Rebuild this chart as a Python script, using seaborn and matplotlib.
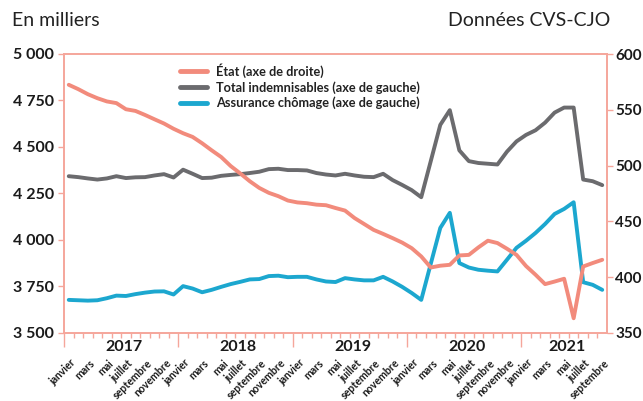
import numpy as np
import pandas as pd
import seaborn as sns
import matplotlib.pyplot as plt
from matplotlib.ticker import FuncFormatter

# Données mensuelles, janvier 2017 - septembre 2021 (en milliers)
etat = [572.4, 568.5, 564.0, 560.4, 557.5, 556.0, 550.5, 549.0, 545.4, 541.5, 537.7, 533.0,
        529.0, 525.7, 520.0, 513.7, 507.7, 499.6, 493.0, 486.0, 480.0, 475.6, 472.6, 468.7,
        467.0, 466.3, 465.0, 464.5, 462.0, 459.7, 453.0, 447.7, 442.4, 438.8, 435.0, 431.0,
        426.0, 418.6, 408.7, 410.3, 411.1, 419.5, 420.0, 426.7, 432.7, 430.6, 425.5, 420.0,
        410.0, 402.2, 393.8, 396.1, 398.6, 363.2, 409.6, 412.7, 415.6]
total = [4343, 4338, 4331, 4325, 4331, 4343, 4333, 4337, 4338, 4347, 4354, 4336,
         4378, 4356, 4333, 4335, 4345, 4350, 4354, 4360, 4367, 4381, 4383, 4376,
         4376, 4374, 4360, 4352, 4347, 4356, 4347, 4340, 4338, 4356, 4322, 4296,
         4268, 4230, 4424, 4619, 4698, 4482, 4424, 4414, 4410, 4406, 4475, 4530,
         4565, 4590, 4631, 4685, 4712, 4712, 4325, 4316, 4295]
assurance = [3678, 3676, 3674, 3676, 3687, 3701, 3699, 3709, 3717, 3723, 3724, 3707,
             3752, 3739, 3719, 3732, 3748, 3763, 3775, 3788, 3790, 3806, 3808, 3800,
             3802, 3802, 3788, 3777, 3774, 3795, 3788, 3783, 3783, 3802, 3777, 3748,
             3715, 3678, 3872, 4065, 4146, 3876, 3852, 3840, 3835, 3831, 3894, 3958,
             3996, 4038, 4086, 4140, 4167, 4203, 3773, 3759, 3732]
mois = ["janvier", "février", "mars", "avril", "mai", "juin", "juillet", "août",
        "septembre", "octobre", "novembre", "décembre"]
annees = [2017, 2018, 2019, 2020, 2021]

SALMON = "#f28b7c"
GRAY = "#6b6b6e"
BLUE = "#1ca7cf"
PINK = "#f5a69b"

n = len(etat)
df = pd.DataFrame({"i": np.arange(n), "etat": etat, "total": total, "ac": assurance})

sns.set_theme(style="white")
plt.rcParams["font.family"] = ["Lato", "DejaVu Sans"]

fig = plt.figure(figsize=(6.43, 4.01), dpi=100)
ax = fig.add_axes([64 / 643, 1 - 333 / 401, (607 - 64) / 643, (333 - 54) / 401])
ax2 = ax.twinx()

sns.lineplot(data=df, x="i", y="total", ax=ax, color=GRAY, lw=2.8,
             label="Total indemnisables (axe de gauche)", legend=False)
sns.lineplot(data=df, x="i", y="ac", ax=ax, color=BLUE, lw=2.8,
             label="Assurance chômage (axe de gauche)", legend=False)
sns.lineplot(data=df, x="i", y="etat", ax=ax2, color=SALMON, lw=2.8,
             label="État (axe de droite)", legend=False)

ax.set_xlim(-0.5, n - 0.5)
ax.set_ylim(3500, 5000)
ax2.set_ylim(350, 600)
ax.set_yticks(np.arange(3500, 5001, 250))
ax2.set_yticks(np.arange(350, 601, 50))
ax.yaxis.set_major_formatter(FuncFormatter(lambda v, p: f"{int(v):,}".replace(",", " ")))
for a in (ax, ax2):
    a.set_xlabel("")
    a.set_ylabel("")
    for s in a.spines.values():
        s.set_color(PINK)
        s.set_linewidth(1.2)
ax.tick_params(axis="y", direction="out", length=4, width=1, color=PINK, left=True,
               labelsize=11.5, pad=3)
ax2.tick_params(axis="y", direction="out", length=4, width=1, color=PINK, right=True,
                labelsize=11, pad=2)
for lab in ax.get_yticklabels() + ax2.get_yticklabels():
    lab.set_fontweight("bold")
    lab.set_color("#1a1a1a")

# graduations : mois (mineures) et janvier (majeures)
ax.set_xticks([12 * k - 0.5 for k in range(len(annees))])
ax.set_xticks(np.arange(-0.5, n - 0.5, 1), minor=True)
ax.set_xticklabels([])
ax.tick_params(axis="x", which="major", direction="out", length=10, width=1, color=PINK, bottom=True)
ax.tick_params(axis="x", which="minor", direction="out", length=3.5, width=1, color=PINK, bottom=True)

for i in range(n):
    if i % 2 == 0:
        ax.annotate(mois[i % 12], xy=(i, 0), xycoords=("data", "axes fraction"),
                    xytext=(1, -17.5), textcoords="offset points", rotation=45,
                    rotation_mode="anchor", ha="right", va="top", fontsize=7.6,
                    fontweight="bold", color="#1a1a1a")
for k, an in enumerate(annees):
    idx = [i for i in range(n) if i // 12 == k]
    ax.annotate(str(an), xy=(np.mean(idx) + 0.3, 0), xycoords=("data", "axes fraction"),
                xytext=(0, -10), textcoords="offset points", ha="center", va="center",
                fontsize=11.5, fontweight="bold", color="#1a1a1a")

fig.text(12 / 643, 1 - 20 / 401, "En milliers", fontsize=14, va="center", ha="left", color="#222222")
fig.text(610 / 643, 1 - 20 / 401, "Données CVS-CJO", fontsize=14, va="center", ha="right", color="#222222")

h1, l1 = ax.get_legend_handles_labels()
h2, l2 = ax2.get_legend_handles_labels()
leg = fig.legend(h2 + h1, l2 + l1, loc="upper left", bbox_to_anchor=(180 / 643, 1 - 63 / 401),
                 frameon=False, fontsize=9.2, handlelength=2.1, handletextpad=0.75,
                 labelspacing=0.25, borderpad=0, borderaxespad=0)
for t in leg.get_texts():
    t.set_fontweight("bold")
    t.set_color("#222222")
for line in leg.get_lines():
    line.set_linewidth(3.5)

fig.savefig("out.png", dpi=100)
